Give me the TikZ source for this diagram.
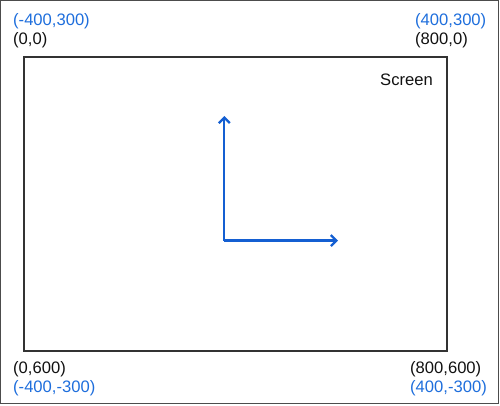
\documentclass[tikz,border=0pt]{standalone}
\usepackage{fontspec}
\setmainfont{Liberation Sans}
\usetikzlibrary{arrows.meta}
\definecolor{lblblue}{RGB}{30,110,220}
\definecolor{arrblue}{RGB}{20,95,210}
\definecolor{txtblack}{RGB}{17,17,17}
\tikzset{
  lbl/.style={inner sep=0pt, font=\fontsize{16.6}{18}\selectfont},
  bluelbl/.style={lbl, text=lblblue},
  blacklbl/.style={lbl, text=txtblack},
  axis/.style={draw=arrblue, line width=2.3pt, -{Straight Barb[length=5.5pt,width=11pt,line width=2.3pt]}},
  frame/.style={draw=black!70, line width=1pt},
  screenbox/.style={draw=black!80, line width=1.2pt}
}
\begin{document}
\begin{tikzpicture}[x=1pt,y=-1pt]
\useasboundingbox (0,0) rectangle (500,405);
\draw[frame] (0.6,0.6) rectangle (498,403);
\draw[screenbox] (24,57) rectangle (447,351);
\node[bluelbl, anchor=base west] (tlb) at (13,25.5) {(-400,300)};
\node[blacklbl, anchor=base west] (tlk) at (13,44.5) {(0,0)};
\node[bluelbl, anchor=base west] (trb) at (415,25.5) {(400,300)};
\node[blacklbl, anchor=base west] (trk) at (415,44.5) {(800,0)};
\node[blacklbl, anchor=base west] (scr) at (380,85) {Screen};
\node[blacklbl, anchor=base west] (blk) at (13,373) {(0,600)};
\node[bluelbl, anchor=base west] (blb) at (13,392) {(-400,-300)};
\node[blacklbl, anchor=base west] (brk) at (410,373) {(800,600)};
\node[bluelbl, anchor=base west] (brb) at (410,392) {(400,-300)};
\coordinate (o) at (224.3,240.5);
\coordinate (xe) at (338,240.5);
\coordinate (ye) at (224.3,116);
\draw[axis] (o) -- (xe);
\draw[axis] (o) -- (ye);
\end{tikzpicture}
\end{document}
